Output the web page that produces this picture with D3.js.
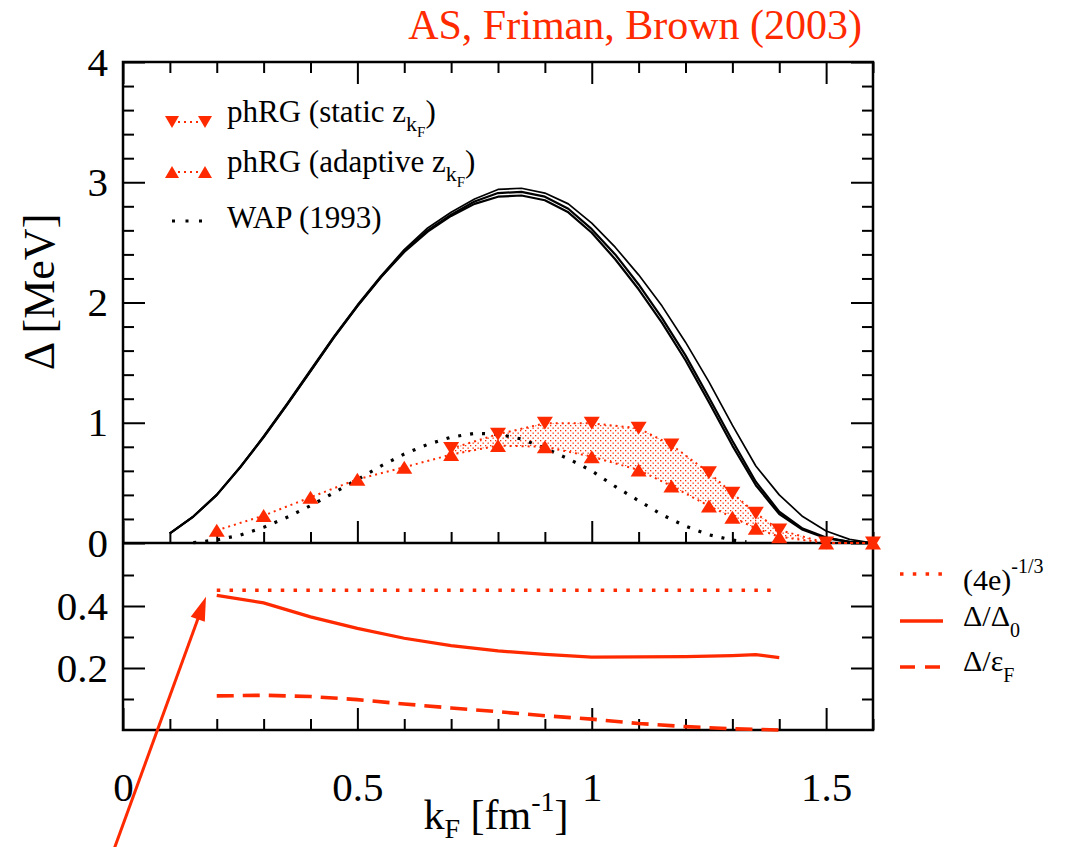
<!DOCTYPE html>
<html>
<head>
<meta charset="utf-8">
<script src="https://cdn.jsdelivr.net/npm/d3@7"></script>
<style>
  body { margin: 0; background: #fff; }
  text { font-family: "Liberation Serif", "Times New Roman", serif; }
</style>
</head>
<body>
<svg id="chart" width="1067" height="847"></svg>
<script>
// ---- data -------------------------------------------------------------
// BCS-type gap from realistic NN potentials (three nearly coincident curves)
const gapKF = [0.10,0.15,0.20,0.25,0.30,0.35,0.40,0.45,0.50,0.55,0.60,0.65,0.70,0.75,0.80,0.85,
               0.90,0.95,1.00,1.05,1.10,1.15,1.20,1.25,1.30,1.35,1.40,1.45,1.50,1.55,1.60];
const gapA = [0.08,0.22,0.40,0.63,0.88,1.15,1.43,1.71,1.97,2.21,2.42,2.59,2.72,2.82,2.88,2.89,
              2.85,2.75,2.58,2.36,2.11,1.83,1.52,1.17,0.81,0.48,0.24,0.11,0.04,0.01,0.00];
const gapB = [0.08,0.22,0.40,0.63,0.88,1.15,1.43,1.71,1.97,2.21,2.43,2.60,2.73,2.84,2.91,2.92,
              2.88,2.78,2.61,2.40,2.15,1.87,1.56,1.21,0.85,0.51,0.26,0.12,0.045,0.01,0.00];
const gapC = [0.08,0.22,0.40,0.63,0.89,1.16,1.44,1.72,1.98,2.22,2.44,2.62,2.75,2.86,2.94,2.95,
              2.91,2.82,2.66,2.46,2.23,1.97,1.67,1.34,0.98,0.64,0.40,0.22,0.10,0.03,0.00];

// WAP (1993)
const wapKF  = [0.15,0.20,0.25,0.30,0.35,0.40,0.45,0.50,0.55,0.60,0.65,0.70,0.75,0.80,
                0.85,0.90,0.95,1.00,1.05,1.10,1.15,1.20,1.25,1.30,1.33];
const wapGap = [0.003,0.025,0.066,0.13,0.214,0.31,0.418,0.528,0.64,0.74,0.82,0.88,0.912,0.905,
                0.865,0.79,0.70,0.60,0.47,0.352,0.235,0.14,0.068,0.024,0.01];

// phRG, static z_kF
const staticKF  = [0.7,0.8,0.9,1.0,1.1,1.17,1.25,1.3,1.35,1.4,1.5,1.6];
const staticGap = [0.785,0.905,0.995,0.995,0.954,0.815,0.585,0.413,0.247,0.108,0.0,0.0];

// phRG, adaptive z_kF
const adaptiveKF  = [0.2,0.3,0.4,0.5,0.6,0.7,0.8,0.9,1.0,1.1,1.17,1.25,1.3,1.35,1.4,1.5,1.6];
const adaptiveGap = [0.105,0.228,0.38,0.53,0.63,0.735,0.81,0.80,0.718,0.607,0.474,0.308,0.214,0.122,0.052,0.0,0.0];

// lower panel: ratios
const ratioKF     = [0.2,0.3,0.4,0.5,0.6,0.7,0.8,0.9,1.0,1.1,1.2,1.3,1.35,1.4];
const gapOverGap0 = [0.4345,0.41,0.365,0.328,0.296,0.272,0.255,0.244,0.235,0.236,0.237,0.240,0.243,0.2335];
const gapOverEF   = [0.110,0.112,0.108,0.098,0.084,0.071,0.059,0.046,0.035,0.021,0.011,0.004,0.002,0.0];
const weakLimitKF = [0.2,1.4];
const weakLimit   = 0.451;   // (4e)^(-1/3)

// axis ticks
const topMajor = [0,1,2,3,4];
const topMinor = [0.2,0.4,0.6,0.8,1.2,1.4,1.6,1.8,2.2,2.4,2.6,2.8,3.2,3.4,3.6,3.8];
const lowMajor = [0.2,0.4];
const lowMinor = [0.1,0.3,0.5];
const kMajor   = [0,0.5,1,1.5];
const kMinor   = [0.1,0.2,0.3,0.4,0.6,0.7,0.8,0.9,1.1,1.2,1.3,1.4,1.6];

// ---- layout -----------------------------------------------------------
const RED = "#ff2a00";
const svg = d3.select("#chart");
const x    = d3.scaleLinear().domain([0,1.6]).range([123,873]);
const yTop = d3.scaleLinear().domain([0,4]).range([543,62]);
const yLow = d3.scaleLinear().domain([0,0.6]).range([730,544]);

const defs = svg.append("defs");
const pat = defs.append("pattern").attr("id","stipple")
  .attr("patternUnits","userSpaceOnUse").attr("width",5).attr("height",5);
pat.append("rect").attr("x",0).attr("y",0).attr("width",1.3).attr("height",1.3).attr("fill",RED);
pat.append("rect").attr("x",2.5).attr("y",2.5).attr("width",1.3).attr("height",1.3).attr("fill",RED);

// ---- axes -------------------------------------------------------------
function styleAxis(g, withText) {
  g.select(".domain").remove();
  g.attr("font-family", null).attr("font-size", null);
  g.selectAll(".tick line").attr("stroke","#000").attr("stroke-width",2);
  g.selectAll(".tick text").attr("font-size",41).attr("fill","#000");
  if (!withText) g.selectAll(".tick text").remove();
}
function addAxis(axis, tx, ty, withText) {
  const g = svg.append("g").attr("transform",`translate(${tx},${ty})`).call(axis);
  styleAxis(g, withText);
  return g;
}
// upper panel
addAxis(d3.axisLeft(yTop).tickValues(topMajor).tickSizeInner(-22).tickSizeOuter(0).tickPadding(15).tickFormat(d3.format("d")), 123, 0, true);
addAxis(d3.axisLeft(yTop).tickValues(topMinor).tickSizeInner(-11).tickSizeOuter(0).tickFormat(""), 123, 0, false);
addAxis(d3.axisRight(yTop).tickValues(topMajor).tickSizeInner(-22).tickSizeOuter(0).tickFormat(""), 873, 0, false);
addAxis(d3.axisRight(yTop).tickValues(topMinor).tickSizeInner(-11).tickSizeOuter(0).tickFormat(""), 873, 0, false);
addAxis(d3.axisTop(x).tickValues(kMajor).tickSizeInner(-22).tickSizeOuter(0).tickFormat(""), 0, 62, false);
addAxis(d3.axisTop(x).tickValues(kMinor).tickSizeInner(-11).tickSizeOuter(0).tickFormat(""), 0, 62, false);
addAxis(d3.axisBottom(x).tickValues(kMajor).tickSizeInner(-22).tickSizeOuter(0).tickFormat(""), 0, 543, false);
addAxis(d3.axisBottom(x).tickValues(kMinor).tickSizeInner(-11).tickSizeOuter(0).tickFormat(""), 0, 543, false);
// lower panel
addAxis(d3.axisLeft(yLow).tickValues(lowMajor).tickSizeInner(-22).tickSizeOuter(0).tickPadding(15).tickFormat(d3.format(".1f")), 123, 0, true);
addAxis(d3.axisLeft(yLow).tickValues(lowMinor).tickSizeInner(-11).tickSizeOuter(0).tickFormat(""), 123, 0, false);
addAxis(d3.axisRight(yLow).tickValues(lowMajor).tickSizeInner(-22).tickSizeOuter(0).tickFormat(""), 873, 0, false);
addAxis(d3.axisRight(yLow).tickValues(lowMinor).tickSizeInner(-11).tickSizeOuter(0).tickFormat(""), 873, 0, false);
addAxis(d3.axisBottom(x).tickValues(kMajor).tickSizeInner(-22).tickSizeOuter(0).tickPadding(42).tickFormat(d3.format("")), 0, 730, true);
addAxis(d3.axisBottom(x).tickValues(kMinor).tickSizeInner(-11).tickSizeOuter(0).tickFormat(""), 0, 730, false);

// frames
svg.append("rect").attr("x",123).attr("y",62).attr("width",750).attr("height",668)
  .attr("fill","none").attr("stroke","#000").attr("stroke-width",2.5);
svg.append("line").attr("x1",123).attr("x2",873).attr("y1",543).attr("y2",543)
  .attr("stroke","#000").attr("stroke-width",2.5);

// ---- upper panel curves -----------------------------------------------
const lineTop = d3.line().x(d => x(d[0])).y(d => yTop(d[1]));
const zip = (a, b) => a.map((v, i) => [v, b[i]]);

[[gapA,2.2],[gapB,2.2],[gapC,1.7]].forEach(([vals, w]) => {
  svg.append("path").attr("d", lineTop(zip(gapKF, vals)))
    .attr("fill","none").attr("stroke","#000").attr("stroke-width",w).attr("stroke-linejoin","round");
});

// band between the two phRG results
const adaptiveByK = new Map(adaptiveKF.map((k,i) => [k, adaptiveGap[i]]));
const bandRows = staticKF.map((k,i) => ({k, hi: staticGap[i], lo: adaptiveByK.get(k)}));
svg.append("path")
  .attr("d", d3.area().x(d => x(d.k)).y0(d => yTop(d.lo)).y1(d => yTop(d.hi))(bandRows))
  .attr("fill","url(#stipple)");

// WAP dotted
svg.append("path").attr("d", lineTop(zip(wapKF, wapGap)))
  .attr("fill","none").attr("stroke","#000").attr("stroke-width",3.2)
  .attr("stroke-dasharray","3,9");

// phRG connectors
[[staticKF, staticGap],[adaptiveKF, adaptiveGap]].forEach(([ks, vs]) => {
  svg.append("path").attr("d", lineTop(zip(ks, vs)))
    .attr("fill","none").attr("stroke",RED).attr("stroke-width",2)
    .attr("stroke-dasharray","2,4");
});

// triangle markers, centred on their bounding box
function triangle(w, h, down) {
  const s = down ? -1 : 1;
  return `M0,${-s*h/2}L${w/2},${s*h/2}L${-w/2},${s*h/2}Z`;
}
svg.append("g").selectAll("path").data(zip(staticKF, staticGap)).join("path")
  .attr("transform", d => `translate(${x(d[0])},${yTop(d[1])})`)
  .attr("d", triangle(16, 13, true)).attr("fill", RED);
svg.append("g").selectAll("path").data(zip(adaptiveKF, adaptiveGap)).join("path")
  .attr("transform", d => `translate(${x(d[0])},${yTop(d[1])})`)
  .attr("d", triangle(16, 13, false)).attr("fill", RED);

// ---- lower panel curves -----------------------------------------------
const lineLow = d3.line().x(d => x(d[0])).y(d => yLow(d[1]));
svg.append("path").attr("d", lineLow(weakLimitKF.map(k => [k, weakLimit])))
  .attr("fill","none").attr("stroke",RED).attr("stroke-width",3.5).attr("stroke-dasharray","3.5,9.3");
svg.append("path").attr("d", lineLow(zip(ratioKF, gapOverGap0)))
  .attr("fill","none").attr("stroke",RED).attr("stroke-width",3.2);
svg.append("path").attr("d", lineLow(zip(ratioKF, gapOverEF)))
  .attr("fill","none").attr("stroke",RED).attr("stroke-width",3.6).attr("stroke-dasharray","17,9");

// arrow pointing at the start of Δ/Δ0
{
  const tx = x(0.177), ty = yLow(0.43);
  const dx = -91, dy = 250, len = Math.hypot(dx, dy);
  const ux = dx/len, uy = dy/len, px = -uy, py = ux;
  svg.append("line").attr("x1", tx + ux*20).attr("y1", ty + uy*20)
    .attr("x2", tx + dx*1.1).attr("y2", ty + dy*1.1)
    .attr("stroke", RED).attr("stroke-width", 3);
  const hl = 24, hw = 7.5;
  svg.append("path")
    .attr("d", `M${tx},${ty}L${tx+ux*hl+px*hw},${ty+uy*hl+py*hw}L${tx+ux*hl-px*hw},${ty+uy*hl-py*hw}Z`)
    .attr("fill", RED);
}

// ---- texts ------------------------------------------------------------
svg.append("text").attr("x",862).attr("y",39).attr("text-anchor","end")
  .attr("font-size",42).attr("fill",RED).text("AS, Friman, Brown (2003)");

// y title
svg.append("text").attr("transform","translate(54,292) rotate(-90)")
  .attr("text-anchor","middle").attr("font-size",44).text("Δ [MeV]");

// x title
{
  const t = svg.append("text").attr("x",496).attr("y",829).attr("text-anchor","middle").attr("font-size",42);
  t.append("tspan").text("k");
  t.append("tspan").attr("font-size",28).attr("dy",9).text("F");
  t.append("tspan").attr("dy",-9).text(" [fm");
  t.append("tspan").attr("font-size",28).attr("dy",-18).text("-1");
  t.append("tspan").attr("dy",18).text("]");
}

// upper legend
{
  const lx0 = 172, lx1 = 205, tx = 227;
  const rows = [
    {y: 122, label: "phRG (static z", down: true},
    {y: 172, label: "phRG (adaptive z", down: false}
  ];
  rows.forEach(r => {
    const my = r.y;
    svg.append("line").attr("x1",lx0).attr("x2",lx1).attr("y1",my).attr("y2",my)
      .attr("stroke",RED).attr("stroke-width",2).attr("stroke-dasharray","2,4");
    [lx0, lx1].forEach(px => svg.append("path")
      .attr("transform",`translate(${px},${my})`).attr("d",triangle(14,12,r.down)).attr("fill",RED));
    const t = svg.append("text").attr("x",tx).attr("y",r.y).attr("font-size",31);
    t.append("tspan").text(r.label);
    t.append("tspan").attr("font-size",22).attr("dy",9).text("k");
    t.append("tspan").attr("font-size",15).attr("dy",6).text("F");
    t.append("tspan").attr("dy",-15).text(")");
  });
  svg.append("line").attr("x1",lx0).attr("x2",lx1+3).attr("y1",221).attr("y2",221)
    .attr("stroke","#000").attr("stroke-width",3.2).attr("stroke-dasharray","3,10.5");
  svg.append("text").attr("x",tx).attr("y",228).attr("font-size",31).text("WAP (1993)");
}

// lower legend
{
  const lx0 = 900, lx1 = 942, tx = 963;
  svg.append("line").attr("x1",lx0).attr("x2",lx1).attr("y1",574).attr("y2",574)
    .attr("stroke",RED).attr("stroke-width",3.5).attr("stroke-dasharray","3.5,9.3");
  let t = svg.append("text").attr("x",tx).attr("y",590).attr("font-size",30);
  t.append("tspan").text("(4e)");
  t.append("tspan").attr("font-size",20).attr("dy",-17).text("-1/3");

  svg.append("line").attr("x1",lx0).attr("x2",lx1+1).attr("y1",621).attr("y2",621)
    .attr("stroke",RED).attr("stroke-width",3.5);
  t = svg.append("text").attr("x",tx).attr("y",626).attr("font-size",30);
  t.append("tspan").text("Δ/Δ");
  t.append("tspan").attr("font-size",20).attr("dy",11).text("0");

  svg.append("line").attr("x1",lx0).attr("x2",lx1+1).attr("y1",667).attr("y2",667)
    .attr("stroke",RED).attr("stroke-width",3.5).attr("stroke-dasharray","15,10");
  t = svg.append("text").attr("x",tx).attr("y",671).attr("font-size",30);
  t.append("tspan").text("Δ/ε");
  t.append("tspan").attr("font-size",20).attr("dy",11).text("F");
}
</script>
</body>
</html>
